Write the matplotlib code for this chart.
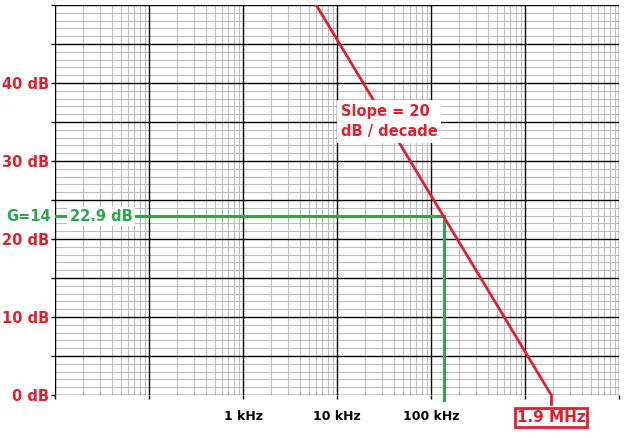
import numpy as np
import matplotlib
matplotlib.use("Agg")
import matplotlib.pyplot as plt
from matplotlib.ticker import FixedLocator, NullFormatter

# data
unity_freq_hz = 1.9e6
slope_db_per_decade = -20.0
gain_db = 22.9
gain_label = "G=14"
x_min, x_max = 10.0, 1e7
y_min, y_max = 0.0, 50.0
x_tick_vals = [1e3, 1e4, 1e5]
x_tick_labels = ["1 kHz", "10 kHz", "100 kHz"]
y_tick_vals = [0, 10, 20, 30, 40]
y_tick_labels = ["0 dB", "10 dB", "20 dB", "30 dB", "40 dB"]

RED = "#e0202e"
GREEN = "#2aa84a"

f_gain = unity_freq_hz * 10 ** (gain_db / slope_db_per_decade)
f_top = unity_freq_hz * 10 ** (y_max / slope_db_per_decade) / 1.5
line_f = np.array([f_top, unity_freq_hz])
line_db = slope_db_per_decade * np.log10(line_f / unity_freq_hz)

plt.rcParams['font.family'] = ['DejaVu Sans']
fig = plt.figure(figsize=(6.29, 4.38), dpi=100)
ax = fig.add_axes([55/629, 43/438, 564/629, 390/438])
ax.set_xscale("log")
ax.set_xlim(x_min, x_max)
ax.set_ylim(y_min, y_max)

# grid
minor_x = [m * 10**d for d in range(1, 7) for m in range(2, 10)]
ax.xaxis.set_minor_locator(FixedLocator(minor_x))
ax.xaxis.set_minor_formatter(NullFormatter())
ax.yaxis.set_minor_locator(FixedLocator(np.arange(0, 51, 1)))
for v in minor_x:
    ax.axvline(v, color="#bdbdbd", lw=0.8, zorder=1)
for v in np.arange(0, 51, 1):
    if v % 5:
        ax.axhline(v, color="#bdbdbd", lw=0.8, zorder=1)
for d in range(1, 8):
    ax.axvline(10**d, color="black", lw=1.0, zorder=2)
for v in np.arange(0, 51, 5):
    ax.axhline(v, color="black", lw=1.0, zorder=2)

for s in ax.spines.values():
    s.set_visible(False)

ax.set_yticks(np.arange(0, 51, 5))
ax.set_yticklabels([y_tick_labels[y_tick_vals.index(v)] if v in y_tick_vals else "" for v in np.arange(0, 51, 5)])
ax.tick_params(axis="y", which="major", length=3, width=1, color="black", labelcolor=RED,
               labelsize=10.5, pad=1)
for t in ax.get_yticklabels():
    t.set_fontweight("bold")
ax.set_xticks([10**d for d in range(1, 8)])
ax.set_xticklabels([x_tick_labels[x_tick_vals.index(10**d)] if 10**d in x_tick_vals else ""
                    for d in range(1, 8)])
ax.tick_params(axis="x", which="major", length=3, width=1, color="black", labelcolor="black",
               labelsize=9, pad=8)
for t in ax.get_xticklabels():
    t.set_fontweight("bold")
ax.tick_params(which="minor", length=0)

# red asymptote line
ax.plot(line_f, line_db, color=RED, lw=2.0, zorder=5, solid_capstyle="butt")
ax.plot([unity_freq_hz, unity_freq_hz], [0, -1.2], color=RED, lw=2.0, zorder=5, clip_on=False)
ax.text(unity_freq_hz, -2.85, "1.9 MHz", color=RED, fontsize=11, fontweight="bold",
        ha="center", va="center", zorder=6,
        bbox=dict(boxstyle="square,pad=0.12", fc="white", ec=RED, lw=2))

# green lines
ax.plot([x_min, f_gain], [gain_db, gain_db], color=GREEN, lw=2.2, zorder=4)
ax.plot([f_gain, f_gain], [gain_db, -0.6], color=GREEN, lw=2.2, zorder=4, clip_on=False)
ax.text(10**1.49, gain_db, "22.9 dB", color=GREEN, fontsize=10.5, fontweight="bold",
        ha="center", va="center", zorder=6,
        bbox=dict(boxstyle="square,pad=0.15", fc="white", ec="none"))
ax.text(-0.008, gain_db, gain_label, transform=ax.get_yaxis_transform(), color=GREEN,
        fontsize=10.5, fontweight="bold", ha="right", va="center", zorder=6)

ax.text(10**4.04, 35.1, "Slope = 20\ndB / decade", color=RED, fontsize=10.5, fontweight="bold",
        ha="left", va="center", linespacing=1.45, zorder=6,
        bbox=dict(boxstyle="square,pad=0.25", fc="white", ec="none"))

fig.savefig("out.png", dpi=100)
